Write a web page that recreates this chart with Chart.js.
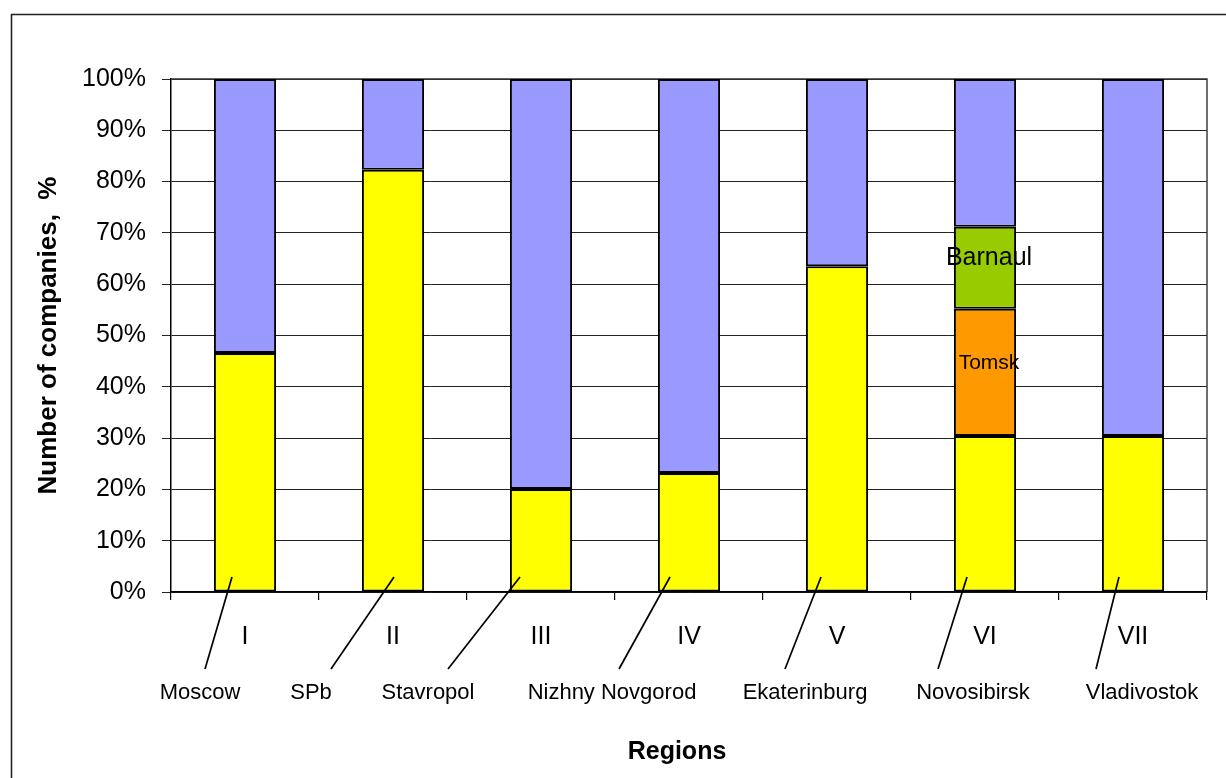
<!DOCTYPE html>
<html>
<head>
<meta charset="utf-8">
<title>Number of companies by region</title>
<script src="https://cdn.jsdelivr.net/npm/chart.js@4.4.1/dist/chart.umd.min.js"></script>
<style>
  html, body { margin: 0; padding: 0; background: #fff; }
  #wrap { width: 1226px; height: 778px; position: relative; }
</style>
</head>
<body>
<div id="wrap"><canvas id="chart" width="1226" height="778"></canvas></div>
<script>
// Federal districts (roman numerals) and their main cities
const regions = ['I', 'II', 'III', 'IV', 'V', 'VI', 'VII'];
const cities = ['Moscow', 'SPb', 'Stavropol', 'Nizhny Novgorod', 'Ekaterinburg', 'Novosibirsk', 'Vladivostok'];

// Share of companies, %
const mainCityShare = [46.6, 82.3, 20.1, 23.2, 63.5, 30.4, 30.4];
const tomskShare    = [null, null, null, null, null, 24.8, null];
const barnaulShare  = [null, null, null, null, null, 16.0, null];
const otherShare    = [53.4, 17.7, 79.9, 76.8, 36.5, 28.8, 69.6];

// Y axis tick values
const yTicks = [0, 10, 20, 30, 40, 50, 60, 70, 80, 90, 100];

// Callout geometry for city names, in px relative to the category centre
// [line start dx, line end dx, label centre dx]
const calloutOffsets = [
  [-13, -40, -45],
  [1, -62, -82],
  [-21, -93, -113],
  [-19, -70, -77],
  [-16, -52, -32],
  [-18, -47, -12],
  [-14, -37, 9]
];

const FONT = '"Liberation Sans", Arial, sans-serif';

const framePlugin = {
  id: 'frame',
  beforeDraw(chart) {
    const ctx = chart.ctx;
    ctx.save();
    ctx.fillStyle = '#fff';
    ctx.fillRect(0, 0, chart.width, chart.height);
    ctx.strokeStyle = '#222';
    ctx.lineWidth = 1.6;
    ctx.beginPath();
    ctx.moveTo(11.5, chart.height);
    ctx.lineTo(11.5, 14.5);
    ctx.lineTo(chart.width, 14.5);
    ctx.stroke();
    ctx.restore();
  },
  beforeDatasetsDraw(chart) {
    const {ctx, chartArea: a} = chart;
    ctx.save();
    ctx.strokeStyle = '#333';
    ctx.lineWidth = 1.4;
    ctx.beginPath();
    ctx.moveTo(a.left, a.top);
    ctx.lineTo(a.right, a.top);
    ctx.lineTo(a.right, a.bottom);
    ctx.stroke();
    ctx.restore();
  }
};

const labelPlugin = {
  id: 'labels',
  afterDraw(chart) {
    const ctx = chart.ctx;
    const a = chart.chartArea;
    const meta0 = chart.getDatasetMeta(0);
    ctx.save();
    // segment labels inside the Novosibirsk column
    const inner = [
      {ds: 1, text: 'Tomsk', size: 21, dy: -9},
      {ds: 2, text: 'Barnaul', size: 25, dy: -10}
    ];
    ctx.fillStyle = '#000';
    ctx.textAlign = 'center';
    ctx.textBaseline = 'middle';
    inner.forEach(o => {
      const meta = chart.getDatasetMeta(o.ds);
      meta.data.forEach((el, i) => {
        const v = chart.data.datasets[o.ds].data[i];
        if (v == null) return;
        ctx.font = o.size + 'px ' + FONT;
        ctx.fillText(o.text, el.x + 4, (el.y + el.base) / 2 + o.dy);
      });
    });
    // city callouts under the axis
    ctx.strokeStyle = '#000';
    ctx.lineWidth = 1.7;
    ctx.font = '22px ' + FONT;
    meta0.data.forEach((el, i) => {
      const off = calloutOffsets[i];
      const x = el.x;
      ctx.beginPath();
      ctx.moveTo(x + off[0], a.bottom - 15);
      ctx.lineTo(x + off[1], a.bottom + 77);
      ctx.stroke();
      ctx.fillText(cities[i], x + off[2], a.bottom + 101);
    });
    // horizontal axis title
    ctx.font = 'bold 25px ' + FONT;
    ctx.fillText('Regions', 677, 752);
    ctx.restore();
  }
};

const barStyle = {
  borderColor: '#000',
  borderWidth: 2,
  borderSkipped: false,
  barPercentage: 0.42,
  categoryPercentage: 1.0
};

new Chart(document.getElementById('chart'), {
  type: 'bar',
  data: {
    labels: regions,
    datasets: [
      Object.assign({label: 'Main city', data: mainCityShare, backgroundColor: '#FFFF00'}, barStyle),
      Object.assign({label: 'Tomsk', data: tomskShare, backgroundColor: '#FF9900'}, barStyle),
      Object.assign({label: 'Barnaul', data: barnaulShare, backgroundColor: '#99CC00'}, barStyle),
      Object.assign({label: 'Other', data: otherShare, backgroundColor: '#9999FF'}, barStyle)
    ]
  },
  options: {
    responsive: false,
    animation: false,
    devicePixelRatio: 1,
    layout: { padding: { left: 30, top: 79, right: 19, bottom: 0 } },
    plugins: {
      legend: { display: false },
      tooltip: { enabled: false },
      title: { display: false }
    },
    scales: {
      x: {
        stacked: true,
        afterFit(scale) { scale.height = 186; },
        grid: { display: true, drawOnChartArea: false, drawTicks: true, tickLength: 8, offset: true, color: '#000', lineWidth: 1.2 },
        border: { color: '#000', width: 1.5 },
        ticks: { color: '#000', padding: 22, font: { family: FONT, size: 25 }, maxRotation: 0 },
        title: { display: false }
      },
      y: {
        stacked: true,
        min: 0,
        max: 100,
        afterFit(scale) { scale.width = 141; },
        afterBuildTicks(scale) { scale.ticks = yTicks.map(v => ({value: v})); },
        grid: { color: '#222', lineWidth: 1, tickLength: 9, drawTicks: true },
        border: { color: '#000', width: 1.5 },
        ticks: {
          color: '#000',
          padding: 16,
          font: { family: FONT, size: 25 },
          callback: v => v + '%'
        },
        title: {
          display: true,
          text: 'Number of companies,  %',
          color: '#000',
          font: { family: FONT, size: 26, weight: 'bold' },
          padding: { top: 3, bottom: 0 }
        }
      }
    }
  },
  plugins: [framePlugin, labelPlugin]
});
</script>
</body>
</html>
